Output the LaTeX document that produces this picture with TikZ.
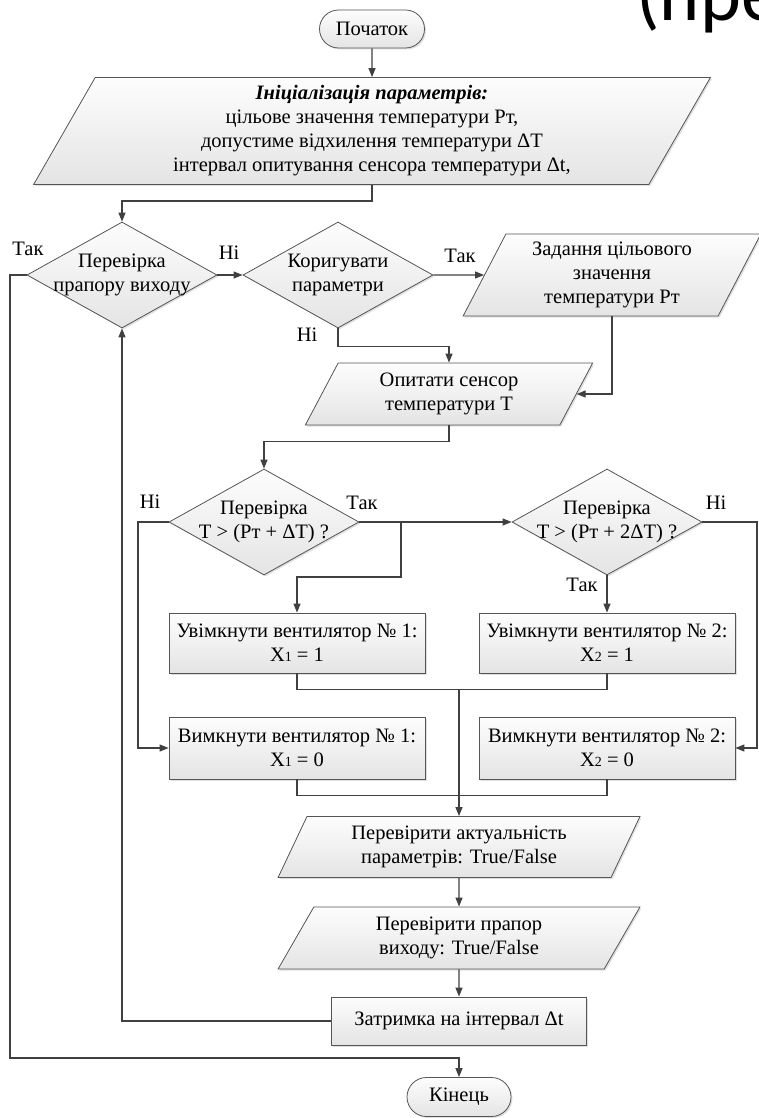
\documentclass[tikz,border=0pt]{standalone}
\usepackage{fontspec}
\setmainfont{Liberation Serif}
\newfontfamily\slidefont{Carlito}
\usetikzlibrary{shapes.geometric}
\usetikzlibrary{shapes.misc}
\usetikzlibrary{arrows.meta}
\usetikzlibrary{shadows}

\definecolor{lineGray}{RGB}{64,64,64}
\definecolor{edgeGray}{RGB}{85,85,85}
\definecolor{fillTop}{RGB}{253,253,253}
\definecolor{fillBot}{RGB}{228,228,228}

\tikzset{
  block/.style={draw=edgeGray, line width=0.8pt, top color=fillTop, bottom color=fillBot,
    drop shadow={shadow xshift=1.5pt, shadow yshift=-1.5pt, opacity=0.25},
    align=center, inner sep=0pt},
  term/.style={block, rounded rectangle, minimum width=105pt, minimum height=38pt},
  proc/.style={block, rectangle, minimum width=256pt, minimum height=60pt},
  io/.style={block, trapezium, trapezium left angle=64, trapezium right angle=116,
    trapezium stretches=true},
  decide/.style={block, diamond, minimum width=190pt, minimum height=106pt},
  lbl/.style={inner sep=0pt},
  conn/.style={draw=lineGray, line width=1.2pt},
  arr/.style={conn, -{Triangle[length=9pt, width=7pt]}}
}

\begin{document}
\begin{tikzpicture}[x=1pt, y=-1pt, font=\fontsize{20.5}{24}\selectfont]
  \useasboundingbox (0,0) rectangle (759,1118);

  % slide title, cut by the page edge
  \node[anchor=base west, inner sep=0pt, font=\slidefont\fontsize{78}{78}\selectfont] (title) at (636,21) {(пре};

  % --- start and set-up
  \node[term] (start) at (372,29) {Початок};
  \node[io, minimum width=681pt, minimum height=107pt] (init) at (372,131)
    {\textbf{\textit{Ініціалізація параметрів:}}\\
     цільове значення температури Рт,\\
     допустиме відхилення температури ΔT\\
     інтервал опитування сенсора температури Δt,};

  % --- first row of decisions
  \node[decide, label={[align=center]center:{Перевірка\\прапору виходу}}] (exitchk) at (122,275) {};
  \node[decide, label={[align=center]center:{Коригувати\\параметри}}] (corr) at (338,275) {};
  \node[io, minimum width=298pt, minimum height=82pt] (setp) at (612,275)
    {Задання цільового\\значення\\температури Рт};
  \node[io, minimum width=288pt, minimum height=62pt] (poll) at (449,394)
    {Опитати сенсор\\температури Т};

  % --- temperature checks
  \node[decide, label={[align=center]center:{Перевірка\\T > (Рт + ΔT) ?}}] (cmp1) at (264,522) {};
  \node[decide, label={[align=center]center:{Перевірка\\T > (Рт + 2ΔT) ?}}] (cmp2) at (607,522) {};

  % --- fans
  \node[proc] (on1) at (297,643) {Увімкнути вентилятор № 1:\\X{\fontsize{14}{14}\selectfont 1} = 1};
  \node[proc] (on2) at (607,643) {Увімкнути вентилятор № 2:\\X{\fontsize{14}{14}\selectfont 2} = 1};
  \node[proc, minimum height=62pt] (off1) at (297,748) {Вимкнути вентилятор № 1:\\X{\fontsize{14}{14}\selectfont 1} = 0};
  \node[proc, minimum height=62pt] (off2) at (607,748) {Вимкнути вентилятор № 2:\\X{\fontsize{14}{14}\selectfont 2} = 0};

  % --- tail of the loop
  \node[io, minimum width=363pt, minimum height=61pt] (actual) at (459,847)
    {Перевірити актуальність\\параметрів: True/False};
  \node[io, minimum width=363pt, minimum height=62pt] (flag) at (459,938)
    {Перевірити прапор\\виходу: True/False};
  \node[proc, minimum width=255pt, minimum height=48pt] (delay) at (459,1021) {Затримка на інтервал Δt};
  \node[term, minimum width=104pt, minimum height=39pt] (finish) at (459,1097) {Кінець};

  % bends
  \coordinate (exitbus) at (10,1058);
  \coordinate (br1) at (401,522);
  \coordinate (noL) at (138,522);
  \coordinate (noR) at (757,522);
  \coordinate (join1) at (459,689);

  % --- connectors
  \draw[arr] (start.south) -- (init.north);
  \draw[arr] (init.south) -- ++(0,16) -| (exitchk.north);
  \draw[arr] (exitchk.east) -- (corr.west);
  \draw[arr] (exitchk.west) -| (exitbus) -| (finish.north);
  \draw[arr] (corr.east) -- (setp.west);
  \draw[arr] (corr.south) -- ++(0,18) -| (poll.north);
  \draw[arr] (setp.center |- setp.south) |- (poll.east);
  \draw[arr] (poll.south) -- ++(0,16) -| (cmp1.north);
  \draw[arr] (cmp1.east) -- (cmp2.west);
  \draw[arr] (br1) -- ++(0,55) -| (on1.north);
  \draw[arr] (cmp1.west) -- (noL) |- (off1.west);
  \draw[arr] (cmp2.east) -- (noR) |- (off2.east);
  \draw[arr] (cmp2.south) -- (on2.north);
  \draw[conn] (on1.south) -- ++(0,16) -| (on2.south);
  \draw[conn] (off1.south) -- ++(0,16) -| (off2.south);
  \draw[arr] (join1) -- (join1 |- actual.north);
  \draw[arr] (actual.south) -- (flag.north);
  \draw[arr] (flag.south) -- (delay.north);
  \draw[arr] (delay.west) -| (exitchk.south);

  % --- branch labels
  \node[lbl] (yes1) at (28,249) {Так};
  \node[lbl] (no1) at (229,253) {Ні};
  \node[lbl] (yes2) at (460,256) {Так};
  \node[lbl] (no2) at (307,335) {Ні};
  \node[lbl] (no3) at (150,502) {Ні};
  \node[lbl] (yes3) at (362,503) {Так};
  \node[lbl] (no4) at (716,503) {Ні};
  \node[lbl] (yes4) at (582,585) {Так};

\end{tikzpicture}
\end{document}
